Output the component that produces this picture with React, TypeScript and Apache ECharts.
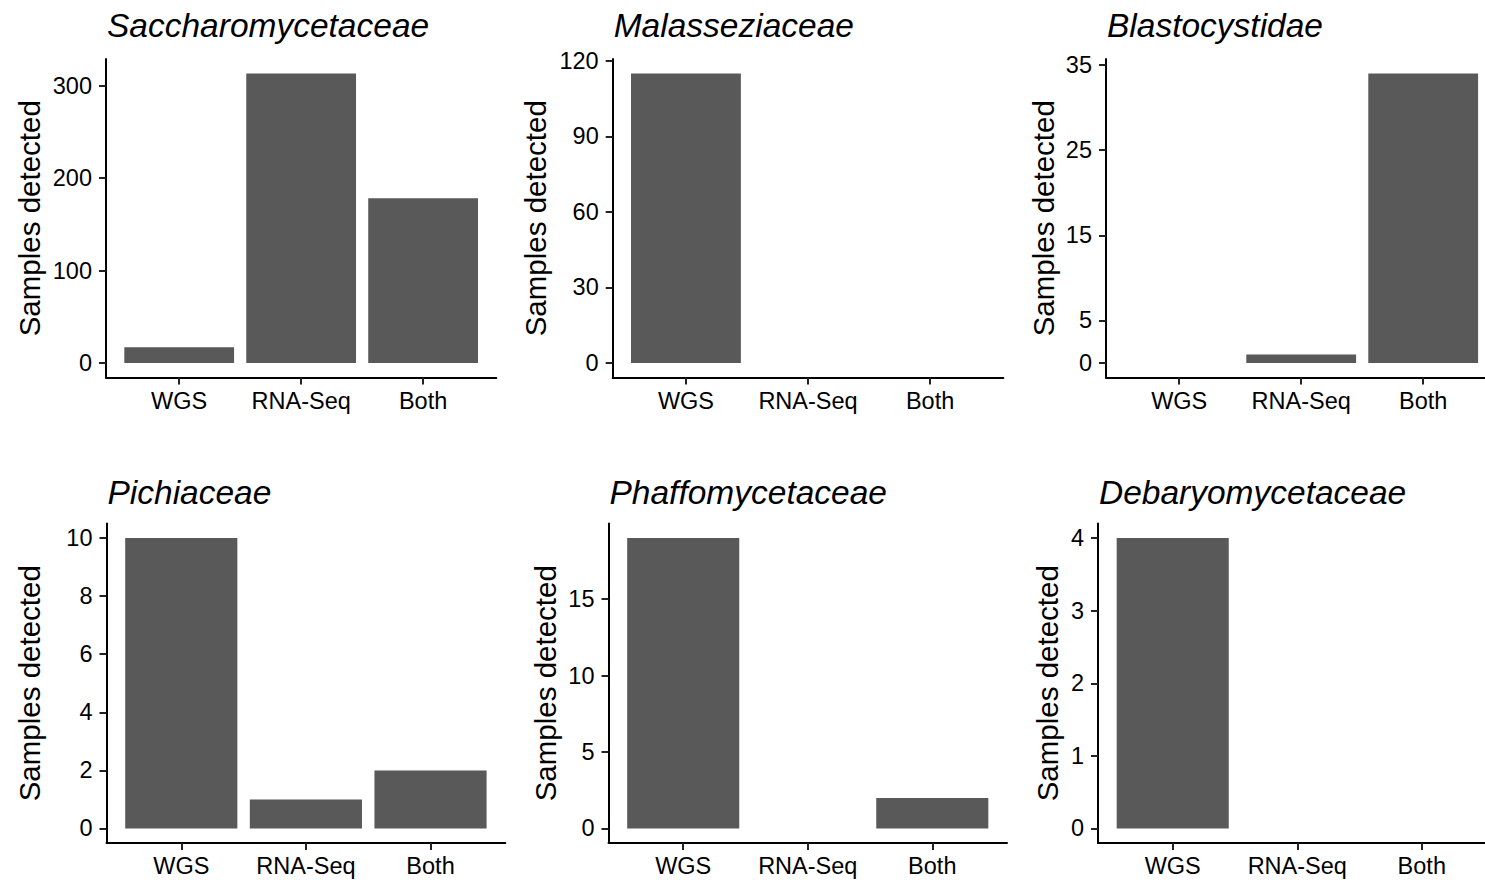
import React, { useEffect, useRef } from 'react';
import * as echarts from 'echarts';

// ---- data ----
const categories = ['WGS', 'RNA-Seq', 'Both'];
const familyNames = [
  'Saccharomycetaceae',
  'Malasseziaceae',
  'Blastocystidae',
  'Pichiaceae',
  'Phaffomycetaceae',
  'Debaryomycetaceae',
];
const saccharomycetaceae = [17, 313, 178];
const malasseziaceae = [115, 0, 0];
const blastocystidae = [0, 1, 34];
const pichiaceae = [10, 1, 2];
const phaffomycetaceae = [19, 0, 2];
const debaryomycetaceae = [4, 0, 0];

const ticksSaccharomycetaceae = [0, 100, 200, 300];
const ticksMalasseziaceae = [0, 30, 60, 90, 120];
const ticksBlastocystidae = [0, 5, 15, 25, 35];
const ticksPichiaceae = [0, 2, 4, 6, 8, 10];
const ticksPhaffomycetaceae = [0, 5, 10, 15];
const ticksDebaryomycetaceae = [0, 1, 2, 3, 4];

const yTitle = 'Samples detected';

const seriesValues = [
  saccharomycetaceae,
  malasseziaceae,
  blastocystidae,
  pichiaceae,
  phaffomycetaceae,
  debaryomycetaceae,
];
const seriesTicks = [
  ticksSaccharomycetaceae,
  ticksMalasseziaceae,
  ticksBlastocystidae,
  ticksPichiaceae,
  ticksPhaffomycetaceae,
  ticksDebaryomycetaceae,
];

// ---- layout (pixels) ----
const layout = [
  { L: 106, R: 496.3, T: 59, B: 377.5, nameGap: 62, titleTop: 8 },
  { L: 612.7, R: 1003.3, T: 59, B: 377.5, nameGap: 62, titleTop: 8 },
  { L: 1106, R: 1496.4, T: 59, B: 377.5, nameGap: 48, titleTop: 8 },
  { L: 106.5, R: 505.3, T: 523.5, B: 843, nameGap: 62, titleTop: 475.6 },
  { L: 608.5, R: 1007, T: 523.5, B: 843, nameGap: 47.7, titleTop: 475.6 },
  { L: 1098, R: 1496.5, T: 523.5, B: 843, nameGap: 35.5, titleTop: 475.6 },
];

const FONT = '"Liberation Sans", Arial, Helvetica, sans-serif';
const BAR_COLOR = '#595959';
const TICK_FONT = 23.5;
const NAME_FONT = 29.5;
const TITLE_FONT = 33.5;

function buildOption() {
  const grid: any[] = [];
  const xAxis: any[] = [];
  const yAxis: any[] = [];
  const series: any[] = [];
  const title: any[] = [];

  seriesValues.forEach((values, i) => {
    const lay = layout[i];
    const ticks = seriesTicks[i];
    const dmax = Math.max(0, ...values);
    const ymin = -0.05 * dmax;
    const ymax = 1.05 * dmax;
    const band = (lay.R - lay.L) / 3.2;

    // frame grid (full ggplot panel incl. expansion)
    grid.push({ left: lay.L, top: lay.T, width: lay.R - lay.L, height: lay.B - lay.T, containLabel: false });
    // inner grid (category bands)
    grid.push({ left: lay.L + 0.1 * band, top: lay.T, width: 3 * band, height: lay.B - lay.T, containLabel: false });

    xAxis.push({
      gridIndex: 2 * i,
      type: 'category',
      data: categories,
      axisLine: { show: true, onZero: false, lineStyle: { color: '#000', width: 2 } },
      axisTick: { show: false },
      axisLabel: { show: false },
      splitLine: { show: false },
    });
    xAxis.push({
      gridIndex: 2 * i + 1,
      type: 'category',
      data: categories,
      boundaryGap: true,
      axisLine: { show: false, onZero: false },
      axisTick: { show: true, alignWithLabel: true, length: 7, lineStyle: { color: '#222', width: 2 } },
      axisLabel: { show: true, interval: 0, fontSize: TICK_FONT, color: '#000', margin: 11, fontFamily: FONT },
      splitLine: { show: false },
    });

    yAxis.push({
      gridIndex: 2 * i,
      type: 'value',
      min: ymin,
      max: ymax,
      axisLine: { show: true, lineStyle: { color: '#000', width: 2 } },
      axisTick: { show: true, length: 7, customValues: ticks, lineStyle: { color: '#222', width: 2 } },
      axisLabel: { show: true, customValues: ticks, fontSize: TICK_FONT, color: '#000', margin: 14, fontFamily: FONT },
      splitLine: { show: false },
      name: yTitle,
      nameLocation: 'middle',
      nameGap: lay.nameGap,
      nameTextStyle: { fontSize: NAME_FONT, color: '#000', fontFamily: FONT },
    });
    yAxis.push({
      gridIndex: 2 * i + 1,
      type: 'value',
      min: ymin,
      max: ymax,
      show: false,
      splitLine: { show: false },
    });

    series.push({
      type: 'bar',
      xAxisIndex: 2 * i + 1,
      yAxisIndex: 2 * i + 1,
      data: values,
      barWidth: '90%',
      itemStyle: { color: BAR_COLOR },
      silent: true,
    });

    title.push({
      text: familyNames[i],
      left: lay.L + 1,
      top: lay.titleTop,
      padding: 0,
      textStyle: {
        fontSize: TITLE_FONT,
        fontStyle: 'italic',
        fontWeight: 'normal',
        color: '#000',
        fontFamily: FONT,
      },
    });
  });

  return {
    animation: false,
    backgroundColor: '#ffffff',
    title,
    grid,
    xAxis,
    yAxis,
    series,
  };
}

export default function App() {
  const ref = useRef<HTMLDivElement>(null);
  useEffect(() => {
    if (!ref.current) return;
    const chart = echarts.init(ref.current, null, { renderer: 'svg' });
    chart.setOption(buildOption() as any);
    return () => chart.dispose();
  }, []);
  return (
    <div
      ref={ref}
      style={{ position: 'absolute', left: 0, top: 0, width: 1485, height: 882, background: '#fff' }}
    />
  );
}
